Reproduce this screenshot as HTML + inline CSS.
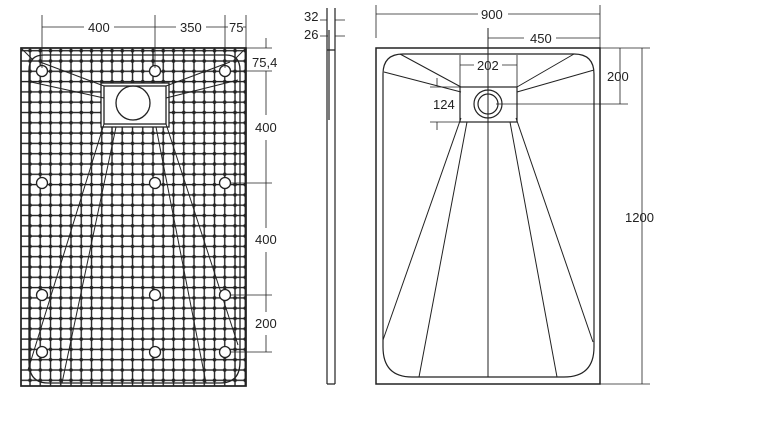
<!DOCTYPE html>
<html><head><meta charset="utf-8"><style>
html,body{margin:0;padding:0;background:#fff;}
svg{display:block;}
text{font-family:"Liberation Sans",sans-serif;font-size:13px;fill:#222;}
</style></head><body>
<svg width="780" height="432" viewBox="0 0 780 432" xmlns="http://www.w3.org/2000/svg">
<defs>
<pattern id="g" x="25" y="56" width="10.25" height="10.3" patternUnits="userSpaceOnUse">
<line x1="5" y1="0" x2="5" y2="10.3" stroke="#222" stroke-width="1.4"/>
<line x1="0" y1="5" x2="10.25" y2="5" stroke="#222" stroke-width="1.4"/>
<circle cx="5" cy="5" r="1.8" fill="#222"/>
</pattern>
<marker id="a" markerWidth="6" markerHeight="6" refX="5" refY="3" orient="auto-start-reverse"><path d="M0,1 L5,3 L0,5z" fill="#222"/></marker>
</defs>
<g stroke="#222" fill="none" stroke-width="1">
<!-- left panel -->
<rect x="21" y="48" width="225" height="338" fill="url(#g)" stroke-width="1.5"/>
<rect x="21" y="48" width="225" height="338" stroke-width="1.5"/>
<path d="M29,70 Q29,55 44,55 L226,55 Q240,55 240,70 L240,362 Q240,383 220,383 L48,383 Q29,383 29,362 Z" stroke-width="1.3"/>
<path d="M21,48 L33,60 M246,48 L236,58"/>
<rect x="101" y="83" width="68" height="44" fill="#fff" stroke-width="1.3"/>
<rect x="104" y="86" width="62" height="38" stroke-width="1.3"/>
<circle cx="133" cy="103" r="17" stroke-width="1.3"/>
<path d="M104,86 L40,62 M166,86 L230,62 M104,98 L31,82 M166,98 L238,80 M104,124 L28,370 M116,127 L62,383 M156,127 L206,383 M166,124 L238,345"/>
<g fill="#fff" stroke-width="1.3">
<circle cx="42" cy="71" r="5.5"/><circle cx="155" cy="71" r="5.5"/><circle cx="225" cy="71" r="5.5"/>
<circle cx="42" cy="183" r="5.5"/><circle cx="155" cy="183" r="5.5"/><circle cx="225" cy="183" r="5.5"/>
<circle cx="42" cy="295" r="5.5"/><circle cx="155" cy="295" r="5.5"/><circle cx="225" cy="295" r="5.5"/>
<circle cx="42" cy="352" r="5.5"/><circle cx="155" cy="352" r="5.5"/><circle cx="225" cy="352" r="5.5"/>
</g>
<!-- left dims -->
<g stroke-width="0.8">
<path d="M42,15 V68 M155,15 V68 M225,15 V68 M246,15 V48"/>
<path d="M42,27 H84 M114,27 H155 M155,27 H176 M206,27 H225 M225,27 H228 M243,27 H246"/>
<path d="M230,71 H272 M230,183 H272 M230,295 H272 M230,352 H272 M246,48 H272"/>
<path d="M266,38 V48 M266,71 V115 M266,140 V183 M266,183 V228 M266,252 V295 M266,295 V312 M266,335 V352"/>
</g>
<!-- side view -->
<path d="M327,8 V384 M335,8 V384 M327,384 H335 M329,30 V120 M327,50 H335" stroke-width="1.2"/>
<path d="M320,20 H327 M345,20 H335 M320,36 H328 M345,36 H335" stroke-width="0.8"/>
<!-- right panel -->
<rect x="376" y="48" width="224" height="336" stroke-width="1.5"/>
<path d="M383,74 Q383,54 403,54 L574,54 Q594,54 594,74 L594,347 Q594,377 564,377 L412,377 Q383,377 383,347 Z" stroke-width="1.2"/>
<rect x="460" y="87" width="57" height="35" stroke-width="1.2"/>
<circle cx="488" cy="104" r="14" stroke-width="1.2"/>
<circle cx="488" cy="104" r="10" stroke-width="1.2"/>
<path d="M461,87 L400,54 M517,87 L574,54 M461,92 L384,72 M517,92 L594,70 M461,118 L383,340 M467,122 L419,377 M510,122 L557,377 M516,118 L593,342 M488,28 V377"/>
<g stroke-width="0.8">
<path d="M376,5 V38 M600,5 V48 M376,14 H478 M508,14 H600 M488,38 H524 M556,38 H600"/>
<path d="M460,55 V87 M517,55 V87 M460,65 H474 M502,65 H517"/>
<path d="M600,48 H650 M496,104 H628 M600,384 H650 M620,48 V104 M642,48 V384"/>
<path d="M437,78 V86 M437,122 V130 M430,87 H460 M430,122 H460"/>
</g>
</g>
<g>
<text x="88" y="32">400</text><text x="180" y="32">350</text><text x="229" y="32">75</text>
<text x="252" y="67">75,4</text>
<text x="255" y="132">400</text><text x="255" y="244">400</text><text x="255" y="328">200</text>
<text x="304" y="21">32</text><text x="304" y="39">26</text>
<text x="481" y="19">900</text><text x="530" y="43">450</text><text x="477" y="70">202</text>
<text x="433" y="109">124</text><text x="607" y="81">200</text><text x="625" y="222">1200</text>
</g>
</svg>
</body></html>
